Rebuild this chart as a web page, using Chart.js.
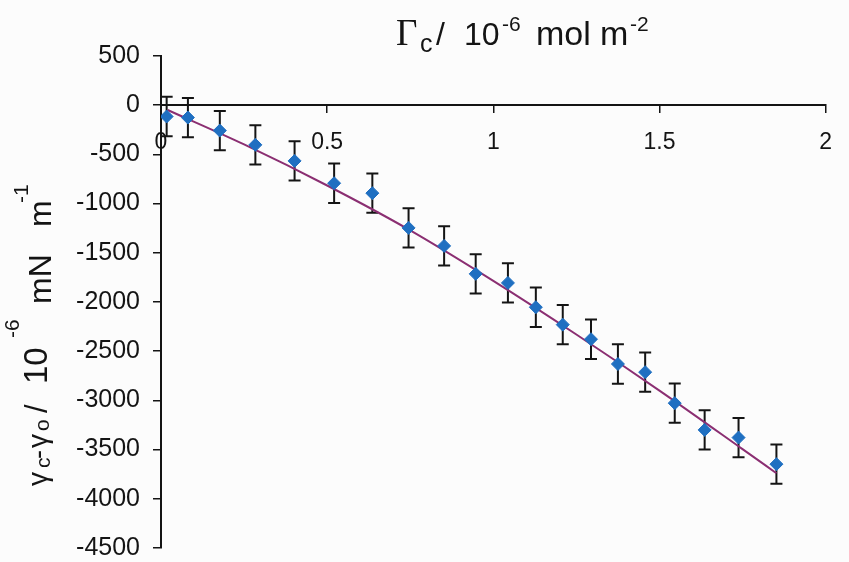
<!DOCTYPE html>
<html>
<head>
<meta charset="utf-8">
<script src="https://cdn.jsdelivr.net/npm/chart.js@4.4.1/dist/chart.umd.min.js"></script>
<style>
  html, body { margin: 0; padding: 0; background: #fcfcfc; }
  #wrap { width: 849px; height: 562px; }
</style>
</head>
<body>
<div id="wrap"><canvas id="c" width="849" height="562"></canvas></div>
<script>
// Surface excess Γc (10^-6 mol m^-2) against surface tension change γc-γo (10^-6 mN m^-1)
const gammaC = [0.017, 0.081, 0.177, 0.284, 0.402, 0.521, 0.636, 0.745, 0.852, 0.947,
                1.044, 1.128, 1.209, 1.294, 1.375, 1.457, 1.546, 1.636, 1.738, 1.852];
const tensionDiff = [-115, -126, -258, -403, -566, -793, -894, -1247, -1430, -1714,
                     -1806, -2053, -2230, -2378, -2630, -2713, -3028, -3300, -3378, -3648];
const tensionErr = [200, 200, 200, 200, 200, 200, 200, 200, 200, 200,
                    200, 200, 200, 200, 200, 200, 200, 200, 200, 200];

// Fitted trend curve
const trendX = [0.02, 0.25, 0.5, 0.75, 1.0, 1.25, 1.5, 1.75, 1.852];
const trendY = [-49, -399, -816, -1272, -1785, -2330, -2900, -3495, -3740];

// Axis ticks
const xTicks = [0, 0.5, 1, 1.5, 2];
const yTicks = [500, 0, -500, -1000, -1500, -2000, -2500, -3000, -3500, -4000, -4500];

const INK = '#141414';
const SANS = '"Liberation Sans", Arial, sans-serif';
const SERIF = '"Liberation Serif", "Times New Roman", serif';

// Vertical error bars with caps, drawn beneath the markers
const errorBars = {
  id: 'errorBars',
  beforeDatasetsDraw(chart) {
    const { ctx, scales: { x, y } } = chart;
    ctx.save();
    ctx.strokeStyle = INK;
    ctx.lineWidth = 2;
    gammaC.forEach((gx, i) => {
      const px = x.getPixelForValue(gx);
      const top = y.getPixelForValue(tensionDiff[i] + tensionErr[i]);
      const bot = y.getPixelForValue(tensionDiff[i] - tensionErr[i]);
      ctx.beginPath();
      ctx.moveTo(px, top); ctx.lineTo(px, bot);
      ctx.moveTo(px - 6, top); ctx.lineTo(px + 6, top);
      ctx.moveTo(px - 6, bot); ctx.lineTo(px + 6, bot);
      ctx.stroke();
    });
    ctx.restore();
  }
};

// Axis titles with sub- and superscripts
const axisTitles = {
  id: 'axisTitles',
  afterDraw(chart) {
    const ctx = chart.ctx;
    ctx.save();
    ctx.fillStyle = INK;
    ctx.textAlign = 'left';
    ctx.textBaseline = 'alphabetic';

    // top title: Γc / 10^-6 mol m^-2
    const base = 45;
    const put = (t, font, x, yb) => { ctx.font = font; ctx.fillText(t, x, yb); };
    put('Γ', '37px ' + SERIF, 396, base);
    put('c', '25px ' + SANS, 420, base + 7);
    put('/', '32px ' + SANS, 436, base);
    put('10', '32px ' + SANS, 464, base);
    put('-6', '21px ' + SANS, 502, base - 14);
    put('mol', '34px ' + SANS, 536, base);
    put('m', '34px ' + SANS, 600, base);
    put('-2', '21px ' + SANS, 630, base - 14);

    // left title, rotated: γc-γo / 10^-6  mN m^-1
    const bx = 49;
    const rot = (t, font, along, dx) => {
      ctx.save();
      ctx.translate(bx + dx, along);
      ctx.rotate(-Math.PI / 2);
      ctx.font = font;
      ctx.fillText(t, 0, 0);
      ctx.restore();
    };
    rot('γ', '28px ' + SANS, 486, -2);
    rot('c', '21px ' + SANS, 468, 1);
    rot('-', '27px ' + SANS, 459, -2);
    rot('γ', '28px ' + SANS, 448, -2);
    rot('o', '21px ' + SANS, 431, 0);
    rot('/', '31px ' + SANS, 413, -2);
    rot('10', '33px ' + SANS, 384, -2);
    rot('-6', '21px ' + SANS, 338, -30);
    rot('mN', '32px ' + SANS, 304, 2);
    rot('m', '32px ' + SANS, 227, 2);
    rot('-1', '21px ' + SANS, 203, -21);
    ctx.restore();
  }
};

const chart = new Chart(document.getElementById('c'), {
  type: 'scatter',
  data: {
    datasets: [
      {
        label: 'measured',
        data: gammaC.map((gx, i) => ({ x: gx, y: tensionDiff[i] })),
        pointStyle: 'rectRot',
        pointRadius: 6.5,
        pointBackgroundColor: '#1f6fc1',
        pointBorderColor: '#1f6fc1',
        pointBorderWidth: 1,
        showLine: false
      },
      {
        label: 'trend',
        data: trendX.map((tx, i) => ({ x: tx, y: trendY[i] })),
        showLine: true,
        borderColor: '#8b2f72',
        borderWidth: 2,
        pointRadius: 0,
        tension: 0.4,
        cubicInterpolationMode: 'monotone',
        fill: false
      }
    ]
  },
  options: {
    responsive: false,
    devicePixelRatio: 1,
    animation: false,
    layout: { padding: { left: 0, top: 56, right: 13, bottom: 14 } },
    plugins: {
      legend: { display: false },
      tooltip: { enabled: false },
      title: { display: false }
    },
    scales: {
      x: {
        type: 'linear',
        position: { y: 0 },
        min: 0,
        max: 2,
        afterBuildTicks: s => { s.ticks = xTicks.map(v => ({ value: v })); },
        grid: { drawOnChartArea: false, drawTicks: true, tickLength: 7, color: INK, lineWidth: 1.5 },
        border: { display: true, color: INK, width: 2 },
        ticks: {
          color: INK,
          font: { family: SANS, size: 23 },
          padding: 17,
          maxRotation: 0,
          callback: v => String(v)
        }
      },
      y: {
        type: 'linear',
        position: 'left',
        min: -4500,
        max: 500,
        afterBuildTicks: s => { s.ticks = yTicks.map(v => ({ value: v })); },
        afterFit: s => { s.width = 161; s.paddingTop = 0; s.paddingBottom = 0; },
        grid: { drawOnChartArea: false, drawTicks: true, tickLength: 8, color: INK, lineWidth: 1.5 },
        border: { display: true, color: INK, width: 2 },
        ticks: {
          color: INK,
          font: { family: SANS, size: 25 },
          padding: 13,
          callback: v => String(v)
        }
      }
    }
  },
  plugins: [errorBars, axisTitles]
});
</script>
</body>
</html>
